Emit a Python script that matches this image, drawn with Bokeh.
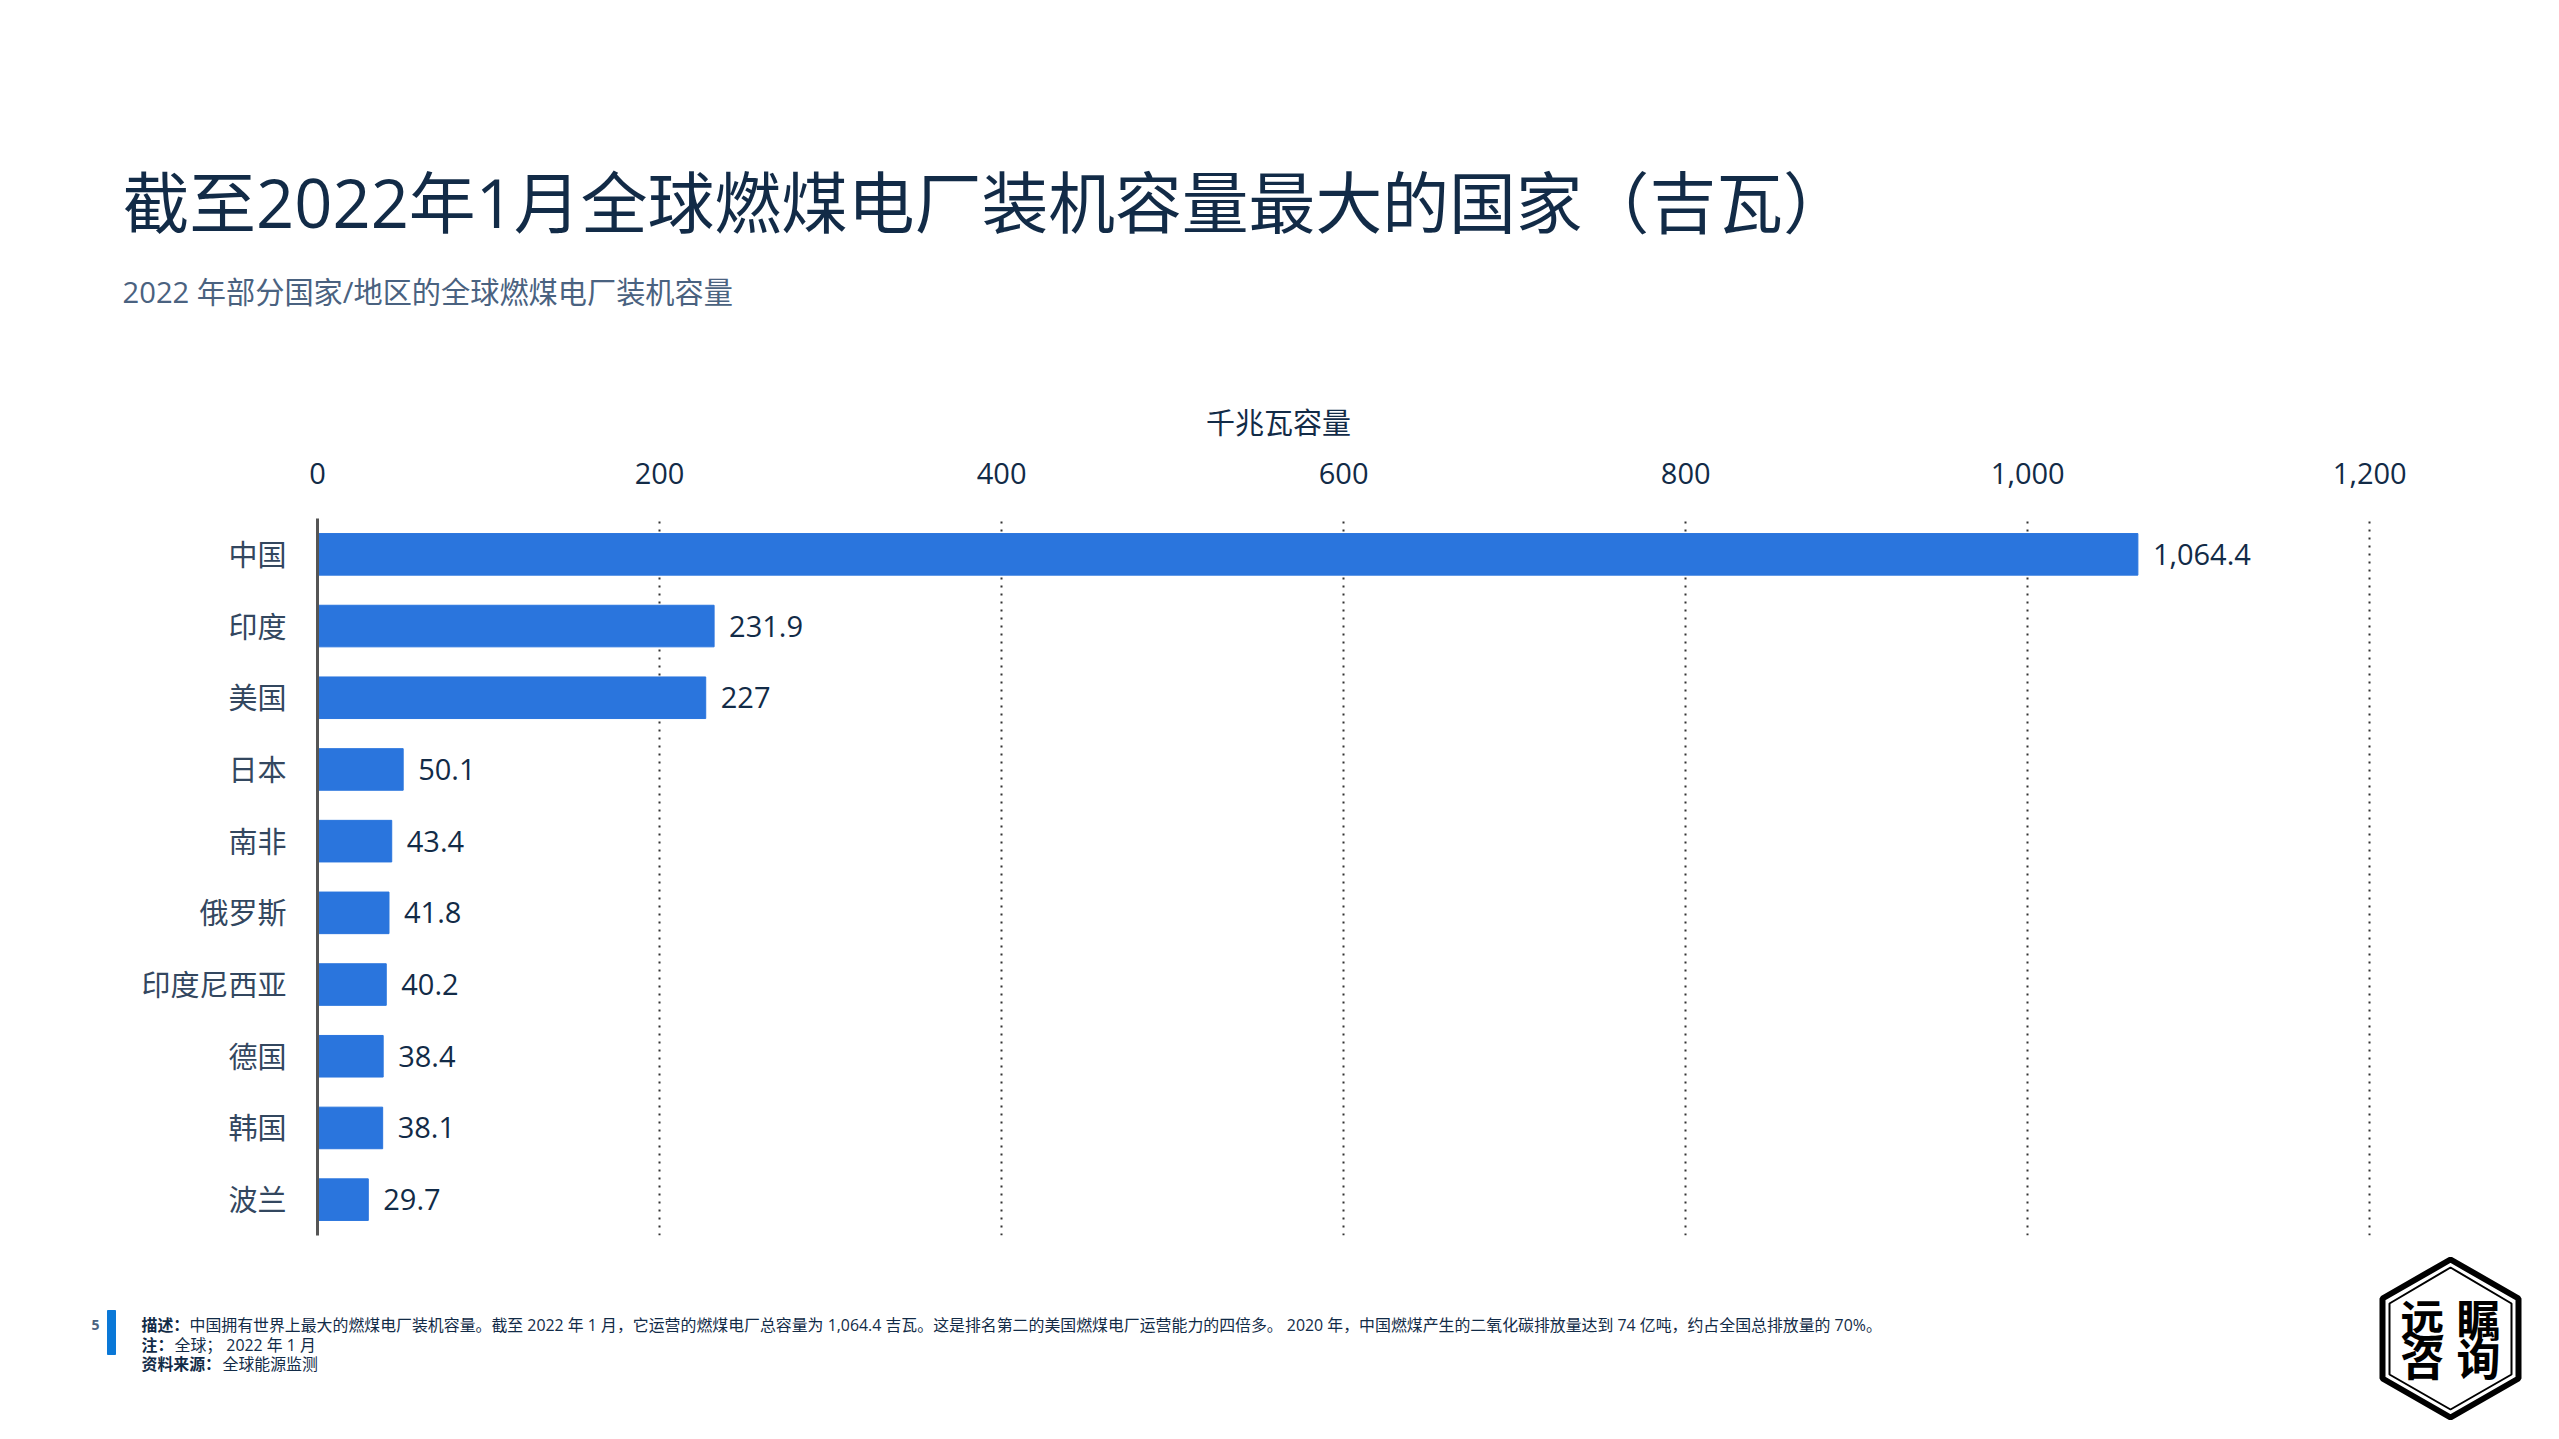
from bokeh.core.properties import value
from bokeh.embed import file_html
from bokeh.layouts import column
from bokeh.models import ColumnDataSource, FactorRange, FixedTicker, Label, LabelSet, NumeralTickFormatter, Range1d
from bokeh.plotting import figure
from bokeh.resources import INLINE

countries = ["中国", "印度", "美国", "日本", "南非", "俄罗斯", "印度尼西亚", "德国", "韩国", "波兰"]
capacity = [1064.4, 231.9, 227, 50.1, 43.4, 41.8, 40.2, 38.4, 38.1, 29.7]
x_ticks = [0, 200, 400, 600, 800, 1000, 1200]

FONT = "'Open Sans', 'Noto Sans CJK SC', sans-serif"
DARK = "#122b47"

W, H = 2543, 1423
HEAD_END, CHART_END = 445, 1240  # page rows where the three stacked figures meet
LEFT, TOP, RIGHT, BOTTOM = 317, 518, 2371, 1235

source = ColumnDataSource(dict(
    country=countries,
    capacity=capacity,
    label=[f"{v:,}" for v in capacity],
))

p = figure(
    width=W, height=CHART_END - HEAD_END, output_backend="svg", toolbar_location=None,
    x_range=Range1d(0, 1201), y_range=FactorRange(factors=countries[::-1], range_padding=0, factor_padding=0),
    x_axis_location="above", frame_align=False,
    min_border_left=LEFT, min_border_right=W - RIGHT, min_border_top=TOP - HEAD_END, min_border_bottom=CHART_END - BOTTOM,
)
p.outline_line_color = None

p.hbar(y="country", right="capacity", left=0, height=0.58, source=source, color="#2a75dd")

# value labels sit just past the bar end
p.add_layout(LabelSet(
    x="capacity", y="country", text="label", source=source, x_offset=15, y_offset=0,
    text_font=value(FONT), text_font_size="29px", text_color=DARK, text_baseline="middle",
))

p.xaxis.ticker = FixedTicker(ticks=x_ticks)
p.xaxis.formatter = NumeralTickFormatter(format="0,0")
p.xaxis.axis_line_color = None
p.xaxis.major_tick_line_color = None
p.xaxis.minor_tick_line_color = None
p.xaxis.major_label_standoff = 29
p.xaxis.major_label_text_font = FONT
p.xaxis.major_label_text_font_size = "29px"
p.xaxis.major_label_text_color = DARK

p.yaxis.axis_line_color = "#555555"
p.yaxis.axis_line_width = 3
p.yaxis.major_tick_line_color = None
p.yaxis.minor_tick_line_color = None
p.yaxis.major_label_standoff = 25
p.yaxis.major_label_text_font = FONT
p.yaxis.major_label_text_font_size = "29px"
p.yaxis.major_label_text_color = "#33475f"

p.ygrid.grid_line_color = None
p.xgrid.grid_line_color = "#333333"
p.xgrid.grid_line_width = 2
p.xgrid.grid_line_dash = [2, 6]


def panel(y0, y1):
    # plain figure whose data units are page pixels, annotations get clipped to the frame
    f = figure(
        width=W, height=y1 - y0, output_backend="svg", toolbar_location=None,
        x_range=Range1d(0, W), y_range=Range1d(y1, y0), x_axis_location=None, y_axis_location=None,
        min_border=0, frame_align=False,
    )
    f.grid.visible = False
    f.outline_line_color = None
    return f


def text(f, x, y, s, size, color=DARK, style="normal", align="left"):
    f.add_layout(Label(
        x=x, y=y, text=s,
        text_font=FONT, text_font_size=f"{size}px", text_color=color, text_font_style=style,
        text_align=align, text_baseline="middle",
    ))


head = panel(0, HEAD_END)
text(head, 122, 202, "截至2022年1月全球燃煤电厂装机容量最大的国家（吉瓦）", 66.8)
text(head, 122, 291, "2022 年部分国家/地区的全球燃煤电厂装机容量", 29.2, color="#4a6280")
text(head, 1278, 422, "千兆瓦容量", 29, align="center")

foot = panel(CHART_END, H)
foot.patch([107, 115, 115, 107], [1310, 1310, 1354, 1354], color="#0a78d7")
text(foot, 95, 1324, "5", 14, color="#4a6280", style="bold", align="center")
text(foot, 141, 1324, "描述：", 15.9, style="bold")
text(foot, 189, 1324, "中国拥有世界上最大的燃煤电厂装机容量。截至 2022 年 1 月，它运营的燃煤电厂总容量为 1,064.4 吉瓦。这是排名第二的美国燃煤电厂运营能力的四倍多。 2020 年，中国燃煤产生的二氧化碳排放量达到 74 亿吨，约占全国总排放量的 70%。", 15.9)
text(foot, 141, 1344, "注：", 15.9, style="bold")
text(foot, 174, 1344, "全球； 2022 年 1 月", 15.9)
text(foot, 141, 1363, "资料来源：", 15.9, style="bold")
text(foot, 222, 1363, "全球能源监测", 15.9)

# logo
foot.patch([2450, 2518, 2518, 2450, 2382, 2382], [1259, 1298, 1378, 1417, 1378, 1298],
           fill_color="white", line_color="black", line_width=6)
foot.patch([2450, 2511, 2511, 2450, 2389, 2389], [1267, 1303, 1374, 1409, 1374, 1303],
           fill_color="white", line_color="black", line_width=2)
text(foot, 2422, 1319, "远", 44, color="black", style="bold", align="center")
text(foot, 2478, 1319, "瞩", 44, color="black", style="bold", align="center")
text(foot, 2422, 1358, "咨", 44, color="black", style="bold", align="center")
text(foot, 2478, 1358, "询", 44, color="black", style="bold", align="center")

open("out.html", "w").write(file_html(column(head, p, foot, spacing=0), INLINE))
